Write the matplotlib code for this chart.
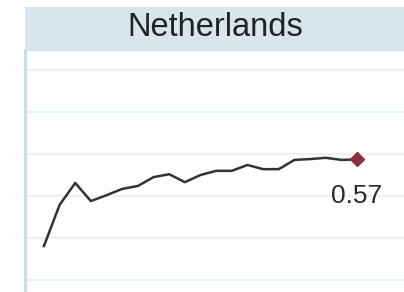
import numpy as np
import matplotlib.pyplot as plt
from matplotlib.patches import Rectangle

plt.rcParams["font.family"] = ["Liberation Sans", "DejaVu Sans"]

# ── Data ───────────────────────────────────────────────────────────────────────
country = "Netherlands"
years = list(range(2000, 2021))
values = [0.364, 0.462, 0.514, 0.471, 0.485, 0.500, 0.507, 0.528, 0.535, 0.516,
          0.533, 0.543, 0.543, 0.557, 0.547, 0.547, 0.569, 0.571, 0.574, 0.569,
          0.570]
grid_levels = [0.283, 0.383, 0.483, 0.583, 0.683, 0.783]
last_label = "0.57"

# ── Style ──────────────────────────────────────────────────────────────────────
W, H = 404, 292
HEADER_BG = "#d9e5ec"
BORDER = "#bfe0ec"
GRID = "#e8f3f6"
LINE = "#333333"
MARKER = "#8e2f3b"

fig = plt.figure(figsize=(W / 100, H / 100), dpi=100)
fig.patch.set_facecolor("white")

# header band
hdr_top, hdr_bot = 7, 50
fig.patches.append(Rectangle((25 / W, 1 - hdr_bot / H), 1 - 25 / W, (hdr_bot - hdr_top) / H,
                             transform=fig.transFigure, facecolor=HEADER_BG,
                             edgecolor="none", zorder=0))
fig.text(215 / W, 1 - 27 / H, country,
         ha="center", va="center", fontsize=23.5, color="#222222")

# plot area
ax = fig.add_axes([25 / W, 0, 1 - 25 / W, (H - hdr_bot) / H])
x = np.arange(len(years))
ax.set_xlim(-1.21, 23.0)
ax.set_ylim(0.2545, 0.8307)

for g in grid_levels:
    ax.axhline(g, color=GRID, lw=1.5, zorder=1)

ax.plot(x, values, color=LINE, lw=1.8, zorder=3)
ax.plot(x[-1], values[-1], marker="D", ms=7, color=MARKER, zorder=4)
ax.annotate(last_label, (x[-1], values[-1]), xytext=(0, -18), textcoords="offset points",
            ha="center", va="top", fontsize=19, color="#2a2a2a")

for s in ["right", "bottom"]:
    ax.spines[s].set_visible(False)
ax.spines["left"].set_color(BORDER)
ax.spines["left"].set_linewidth(2)
ax.spines["top"].set_color(BORDER)
ax.spines["top"].set_linewidth(1.5)
ax.set_xticks([])
ax.set_yticks([])

fig.savefig("out.png", dpi=100)
